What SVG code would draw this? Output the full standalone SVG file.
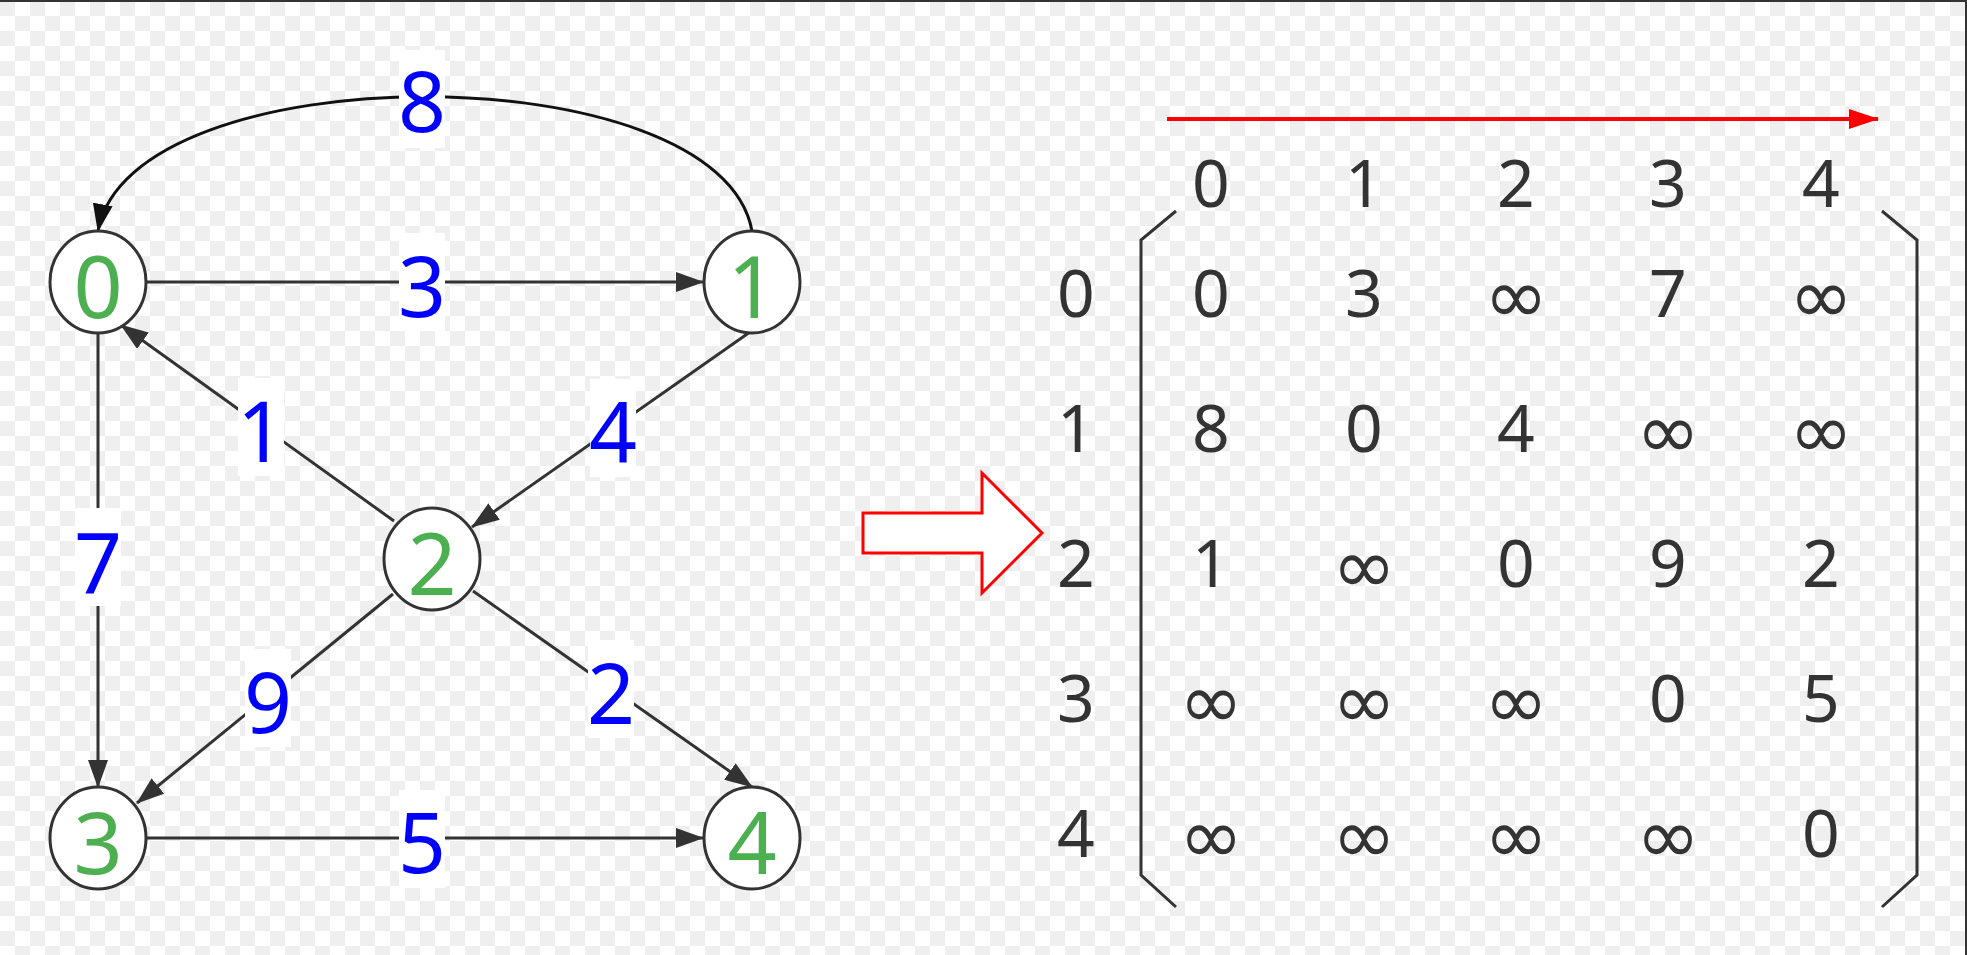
<svg xmlns="http://www.w3.org/2000/svg" width="1967" height="955" viewBox="0 0 1967 955">
<defs>
<pattern id="checker" x="0" y="1" width="30" height="30" patternUnits="userSpaceOnUse">
<rect width="30" height="30" fill="#ffffff"/>
<rect width="15" height="15" fill="#efefef"/>
<rect x="15" y="15" width="15" height="15" fill="#efefef"/>
</pattern>
<marker id="arr" markerWidth="28" markerHeight="20" refX="27" refY="10" orient="auto" markerUnits="userSpaceOnUse">
<path d="M0,0 L28,10 L0,20 Z" fill="#333333"/>
</marker>
<marker id="arrK" markerWidth="28" markerHeight="20" refX="27" refY="10" orient="auto" markerUnits="userSpaceOnUse">
<path d="M0,0 L28,10 L0,20 Z" fill="#111111"/>
</marker>
<marker id="arrR" markerWidth="30" markerHeight="20" refX="29" refY="10" orient="auto" markerUnits="userSpaceOnUse">
<path d="M0,0 L30,10 L0,20 Z" fill="#ff0000"/>
</marker>
</defs>
<style>
.node ellipse{fill:#ffffff;stroke:#333333;stroke-width:3}
.nlabel{font-family:"Noto Sans","DejaVu Sans",sans-serif;font-size:86px;fill:#4caf50;text-anchor:middle}
.edge{fill:none;stroke:#333333;stroke-width:3;marker-end:url(#arr)}
.lbox{fill:#ffffff}
.elabel{font-family:"Noto Sans","DejaVu Sans",sans-serif;font-size:84px;fill:#0000ff;text-anchor:middle}
.mtx{font-family:"Noto Sans","DejaVu Sans",sans-serif;font-size:66px;fill:#333333;text-anchor:middle}
.inf{font-size:77px}
.bracket{fill:none;stroke:#333333;stroke-width:3}
</style>
<rect width="1967" height="955" fill="url(#checker)"/>
<rect x="0" y="0" width="1967" height="2" fill="#333333"/>
<rect x="1965" y="0" width="2" height="955" fill="#333333"/>

<g id="connectors">
<path class="edge" d="M146,282 L703,282"/>
<path class="edge" d="M752,231 C720,52 130,52 98,231" style="stroke:#111111;marker-end:url(#arrK)"/>
<path class="edge" d="M394,521 L121,325"/>
<path class="edge" d="M750,332 L472,527"/>
<path class="edge" d="M98,333 L98,787"/>
<path class="edge" d="M393,594 L137,803"/>
<path class="edge" d="M473,591 L752,787"/>
<path class="edge" d="M146,838 L703,838"/>
</g>

<g id="edge-labels">
<g id="lbl-8"><rect class="lbox" x="399" y="50" width="46" height="98"/><text class="elabel" x="422" y="132">8</text></g>
<g id="lbl-3"><rect class="lbox" x="399" y="233" width="46" height="98"/><text class="elabel" x="422" y="317">3</text></g>
<g id="lbl-1"><rect class="lbox" x="238" y="378" width="46" height="98"/><text class="elabel" x="261" y="462">1</text></g>
<g id="lbl-4"><rect class="lbox" x="590" y="379" width="46" height="98"/><text class="elabel" x="613" y="463">4</text></g>
<g id="lbl-7"><rect class="lbox" x="75" y="508" width="46" height="98"/><text class="elabel" x="98" y="593">7</text></g>
<g id="lbl-9"><rect class="lbox" x="245" y="649" width="46" height="98"/><text class="elabel" x="268" y="733">9</text></g>
<g id="lbl-2"><rect class="lbox" x="588" y="640" width="46" height="98"/><text class="elabel" x="611" y="724">2</text></g>
<g id="lbl-5"><rect class="lbox" x="399" y="790" width="46" height="98"/><text class="elabel" x="422" y="873">5</text></g>
</g>

<g id="node-0" class="node"><ellipse cx="98" cy="282" rx="48" ry="51"/><text class="nlabel" x="98" y="318">0</text></g>
<g id="node-1" class="node"><ellipse cx="752" cy="282" rx="48" ry="51"/><text class="nlabel" x="752" y="318">1</text></g>
<g id="node-2" class="node"><ellipse cx="432" cy="559" rx="48" ry="51"/><text class="nlabel" x="432" y="595">2</text></g>
<g id="node-3" class="node"><ellipse cx="98" cy="838" rx="48" ry="51"/><text class="nlabel" x="98" y="874">3</text></g>
<g id="node-4" class="node"><ellipse cx="752" cy="838" rx="48" ry="51"/><text class="nlabel" x="752" y="874">4</text></g>

<g id="big-arrow">
<polygon points="863,513 982,513 982,473 1042,533 982,593 982,553 863,553" fill="#ffffff" stroke="#ff0000" stroke-width="3"/>
</g>

<g id="red-arrow">
<path d="M1167,119 L1878,119" stroke="#ff0000" stroke-width="4" fill="none" marker-end="url(#arrR)"/>
</g>

<g id="matrix">
<polyline class="bracket" points="1176,211 1141,240 1141,875 1176,907"/>
<polyline class="bracket" points="1882,211 1917,240 1917,875 1882,907"/>
<g id="col-headers">
<text class="mtx" x="1211" y="207">0</text>
<text class="mtx" x="1364" y="207">1</text>
<text class="mtx" x="1516" y="207">2</text>
<text class="mtx" x="1668" y="207">3</text>
<text class="mtx" x="1821" y="207">4</text>
</g>
<g id="row-headers">
<text class="mtx" x="1076" y="317">0</text>
<text class="mtx" x="1076" y="452">1</text>
<text class="mtx" x="1076" y="587">2</text>
<text class="mtx" x="1076" y="722">3</text>
<text class="mtx" x="1076" y="857">4</text>
</g>
<g id="cells">
<text class="mtx" x="1211" y="317">0</text>
<text class="mtx" x="1364" y="317">3</text>
<text class="mtx inf" x="1516" y="323">∞</text>
<text class="mtx" x="1668" y="317">7</text>
<text class="mtx inf" x="1821" y="323">∞</text>
<text class="mtx" x="1211" y="452">8</text>
<text class="mtx" x="1364" y="452">0</text>
<text class="mtx" x="1516" y="452">4</text>
<text class="mtx inf" x="1668" y="458">∞</text>
<text class="mtx inf" x="1821" y="458">∞</text>
<text class="mtx" x="1211" y="587">1</text>
<text class="mtx inf" x="1364" y="593">∞</text>
<text class="mtx" x="1516" y="587">0</text>
<text class="mtx" x="1668" y="587">9</text>
<text class="mtx" x="1821" y="587">2</text>
<text class="mtx inf" x="1211" y="728">∞</text>
<text class="mtx inf" x="1364" y="728">∞</text>
<text class="mtx inf" x="1516" y="728">∞</text>
<text class="mtx" x="1668" y="722">0</text>
<text class="mtx" x="1821" y="722">5</text>
<text class="mtx inf" x="1211" y="863">∞</text>
<text class="mtx inf" x="1364" y="863">∞</text>
<text class="mtx inf" x="1516" y="863">∞</text>
<text class="mtx inf" x="1668" y="863">∞</text>
<text class="mtx" x="1821" y="857">0</text>
</g>
</g>
</svg>
